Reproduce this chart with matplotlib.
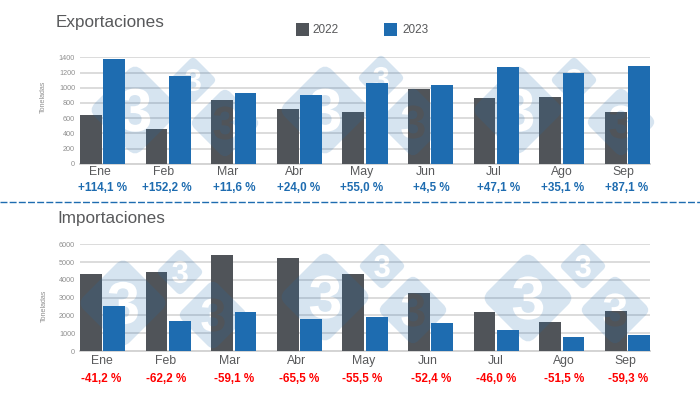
import matplotlib.pyplot as plt
from matplotlib.patches import PathPatch
from matplotlib.path import Path
from matplotlib.textpath import TextPath
from matplotlib.font_manager import FontProperties
from matplotlib.transforms import Affine2D

plt.rcParams["font.family"] = ["Liberation Sans", "DejaVu Sans"]

# %% Data

months = ["Ene", "Feb", "Mar", "Abr", "May", "Jun", "Jul", "Ago", "Sep"]

exp_2022 = [646, 458, 841, 722, 683, 986, 863, 881, 683]
exp_2023 = [1383, 1158, 933, 898, 1061, 1030, 1272, 1198, 1286]
exp_change = ["+114,1 %", "+152,2 %", "+11,6 %", "+24,0 %", "+55,0 %", "+4,5 %", "+47,1 %", "+35,1 %", "+87,1 %"]

imp_2022 = [4331, 4462, 5400, 5212, 4350, 3262, 2194, 1631, 2269]
imp_2023 = [2531, 1687, 2194, 1800, 1912, 1556, 1181, 787, 900]
imp_change = ["-41,2 %", "-62,2 %", "-59,1 %", "-65,5 %", "-55,5 %", "-52,4 %", "-46,0 %", "-51,5 %", "-59,3 %"]

exp_ticks = [0, 200, 400, 600, 800, 1000, 1200, 1400]
imp_ticks = [0, 1000, 2000, 3000, 4000, 5000, 6000]

# %% Layout, in pixels of the 700x400 picture

W, H = 700, 400
GREY, BLUE = "#505459", "#1e6cb0"
TEXT = "#58595b"

# the month and change labels were placed by hand in the original
exp_month_x = [100, 164, 228, 295, 362, 426, 494, 562, 623]
exp_change_x = [102, 167, 234, 299, 362, 431, 499, 563, 627]
imp_month_x = [102, 166, 230, 297, 364, 428, 496, 564, 625]
imp_change_x = [101, 166, 234, 299, 362, 431, 496, 564, 628]

# watermark diamonds: centre x, centre y, half diagonal
exp_marks = [(135, 110, 47), (193, 80, 24), (225, 123, 36),
             (325, 110, 47), (381, 78, 24), (413, 122, 36),
             (518, 110, 47), (574, 80, 24), (621, 122, 36)]
imp_marks = [(123, 303, 46), (180, 272, 24), (213, 315, 36),
             (325, 297, 47), (382, 266, 24), (413, 310, 36),
             (528, 298, 47), (583, 266, 24), (615, 310, 36)]


fig = plt.figure(figsize=(W / 100, H / 100), dpi=100)


def make_axes(top, bottom, v22, v23, ticks):
    ax = fig.add_axes([80 / W, 1 - bottom / H, 570 / W, (bottom - top) / H])
    xs = range(len(v22))
    ax.bar([x - 0.178 for x in xs], v22, width=0.331, color=GREY, zorder=3)
    ax.bar([x + 0.178 for x in xs], v23, width=0.331, color=BLUE, zorder=3)
    ax.set_xlim(-0.343, 8.343)
    ax.set_ylim(0, ticks[-1])
    ax.set_yticks(ticks)
    ax.set_xticks([])
    ax.tick_params(axis="y", length=0, pad=3.5, labelsize=5.2, labelcolor="#8f8f8f")
    ax.grid(axis="y", color="#dcdcdc", lw=1.4, zorder=1)
    ax.set_axisbelow(True)
    for side in ax.spines:
        ax.spines[side].set_visible(False)
    ax.axhline(0, color="#d4d4d4", lw=1.4, zorder=2, clip_on=False)
    return ax


make_axes(57.3, 163.8, exp_2022, exp_2023, exp_ticks)
make_axes(244.3, 351, imp_2022, imp_2023, imp_ticks)

# Overlay in picture pixels for the texts and watermark
over = fig.add_axes([0, 0, 1, 1], zorder=10)
over.set_xlim(0, W)
over.set_ylim(H, 0)
over.axis("off")


def diamond(cx, cy, r):
    """Rounded diamond with the 3 cut out of it"""
    k = 0.15
    corners = [(r, 0), (0, r), (-r, 0), (0, -r)]  # counter clockwise, glyph is clockwise
    verts, codes = [], []
    for i, (x, y) in enumerate(corners):
        px, py = corners[i - 1]
        nx, ny = corners[(i + 1) % 4]
        verts += [(x + (px - x) * k, y + (py - y) * k), (x, y), (x + (nx - x) * k, y + (ny - y) * k)]
        codes += [Path.MOVETO if i == 0 else Path.LINETO, Path.CURVE3, Path.CURVE3]
    verts.append(verts[0])
    codes.append(Path.CLOSEPOLY)
    outer = Path(verts, codes)

    size = r * 1.3
    glyph = TextPath((0, 0), "3", size=size, prop=FontProperties(family="Liberation Sans", weight="bold"))
    box = glyph.get_extents()
    glyph = glyph.transformed(Affine2D().translate(-box.x0 - box.width / 2, -box.y0 - box.height / 2))

    path = Path.make_compound_path(outer, glyph)
    path = path.transformed(Affine2D().scale(1, -1).translate(cx, cy))
    return PathPatch(path, facecolor="#1f6db0", edgecolor="none", alpha=0.18)


for cx, cy, r in exp_marks + imp_marks:
    over.add_patch(diamond(cx, cy, r))

# Titles
over.text(56, 22, "Exportaciones", fontsize=12.3, color=TEXT, va="center")
over.text(57, 218, "Importaciones", fontsize=12.3, color=TEXT, va="center")

# Legend
for x, color, label, tx in [(296, GREY, "2022", 312), (384, BLUE, "2023", 402)]:
    over.fill_between([x, x + 13], 23, 36, color=color, lw=0)
    over.text(tx, 30, label, fontsize=8.5, color=TEXT, va="center")

# Axis titles
over.text(43, 97, "Toneladas", fontsize=5.1, color="#8f8f8f", rotation=90, ha="center", va="center")
over.text(44, 306, "Toneladas", fontsize=5.1, color="#8f8f8f", rotation=90, ha="center", va="center")

# Month labels and changes
for i, m in enumerate(months):
    over.text(exp_month_x[i], 172, m, fontsize=8.8, color=TEXT, ha="center", va="center")
    over.text(exp_change_x[i], 188, exp_change[i], fontsize=8.4, color=BLUE, weight="bold", ha="center", va="center")
    over.text(imp_month_x[i], 361, m, fontsize=8.8, color=TEXT, ha="center", va="center")
    over.text(imp_change_x[i], 379, imp_change[i], fontsize=8.4, color="#ff0000", weight="bold", ha="center", va="center")

# Separator
over.plot([0, W], [202, 202], color=BLUE, lw=1, dashes=(5, 1.6))

fig.savefig("out.png", dpi=100)
